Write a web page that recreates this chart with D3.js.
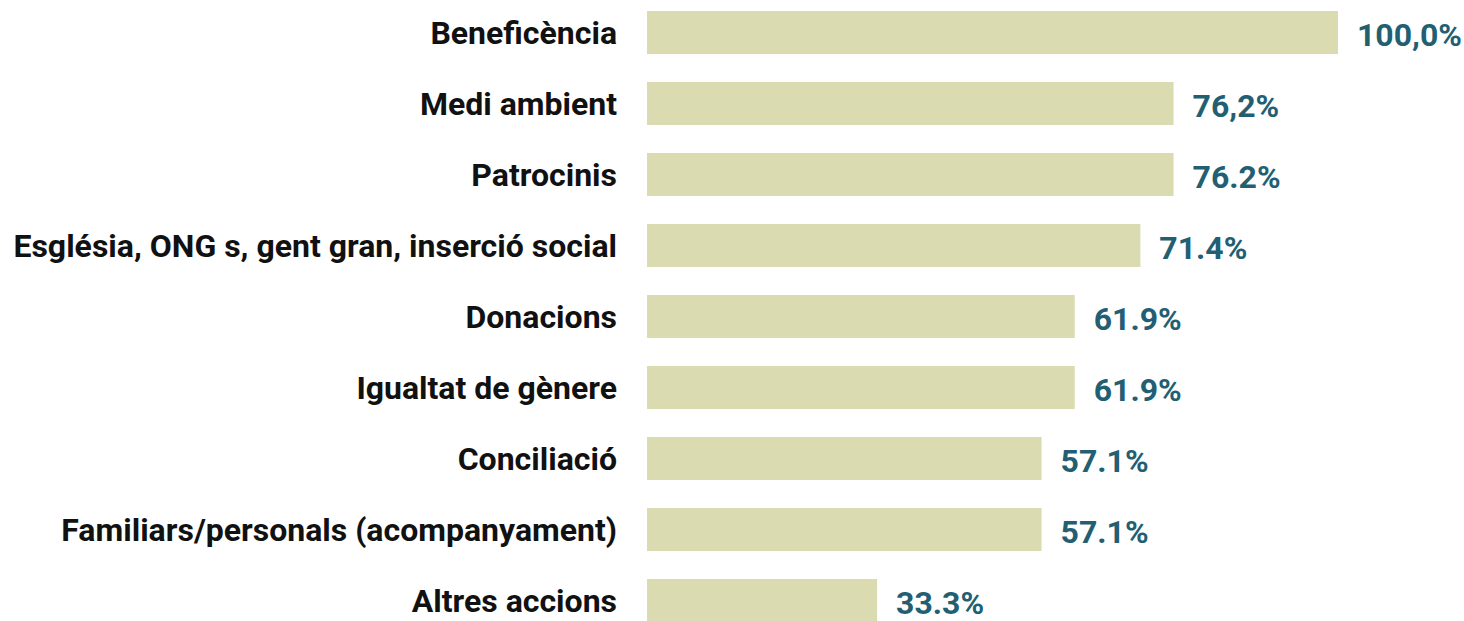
<!DOCTYPE html>
<html>
<head>
<meta charset="utf-8">
<script src="https://cdn.jsdelivr.net/npm/d3@7"></script>
<style>
  body { margin: 0; background: #fff; }
  svg text { font-family: Roboto, "Noto Sans", sans-serif; font-weight: 700; }
</style>
</head>
<body>
<svg id="chart" width="1464" height="621"></svg>
<script>
// categories, top to bottom
const categories = [
  "Beneficència",
  "Medi ambient",
  "Patrocinis",
  "Església, ONG s, gent gran, inserció social",
  "Donacions",
  "Igualtat de gènere",
  "Conciliació",
  "Familiars/personals (acompanyament)",
  "Altres accions"
];
const values = [100, 76.2, 76.2, 71.4, 61.9, 61.9, 57.1, 57.1, 33.3];
// labels as printed (mixed decimal separators in the original)
const valueLabels = ["100,0%", "76,2%", "76.2%", "71.4%", "61.9%", "61.9%", "57.1%", "57.1%", "33.3%"];

const svg = d3.select("#chart");

const x = d3.scaleLinear().domain([0, 100]).range([647, 1338]);
const y = d3.scaleBand()
    .domain(categories)
    .range([-3, 636])
    .paddingInner(0.394)
    .paddingOuter(0.197);

const rows = categories.map((c, i) => ({ cat: c, v: values[i], lab: valueLabels[i] }));

svg.append("g").selectAll("rect")
    .data(rows)
    .enter().append("rect")
      .attr("x", x(0))
      .attr("y", d => y(d.cat))
      .attr("width", d => x(d.v) - x(0))
      .attr("height", y.bandwidth())
      .style("fill", "#dadbb0");

// category labels
svg.append("g").selectAll("text")
    .data(rows)
    .enter().append("text")
      .attr("x", 617)
      .attr("y", d => y(d.cat) + y.bandwidth() / 2)
      .attr("dy", "0.36em")
      .attr("text-anchor", "end")
      .style("font-size", "32px")
      .style("fill", "#111")
      .text(d => d.cat);

// value labels
svg.append("g").selectAll("text")
    .data(rows)
    .enter().append("text")
      .attr("x", d => x(d.v) + 19)
      .attr("y", d => y(d.cat) + y.bandwidth() / 2 + 2)
      .attr("dy", "0.36em")
      .style("font-size", "32px")
      .style("fill", "#235f73")
      .text(d => d.lab);
</script>
</body>
</html>
